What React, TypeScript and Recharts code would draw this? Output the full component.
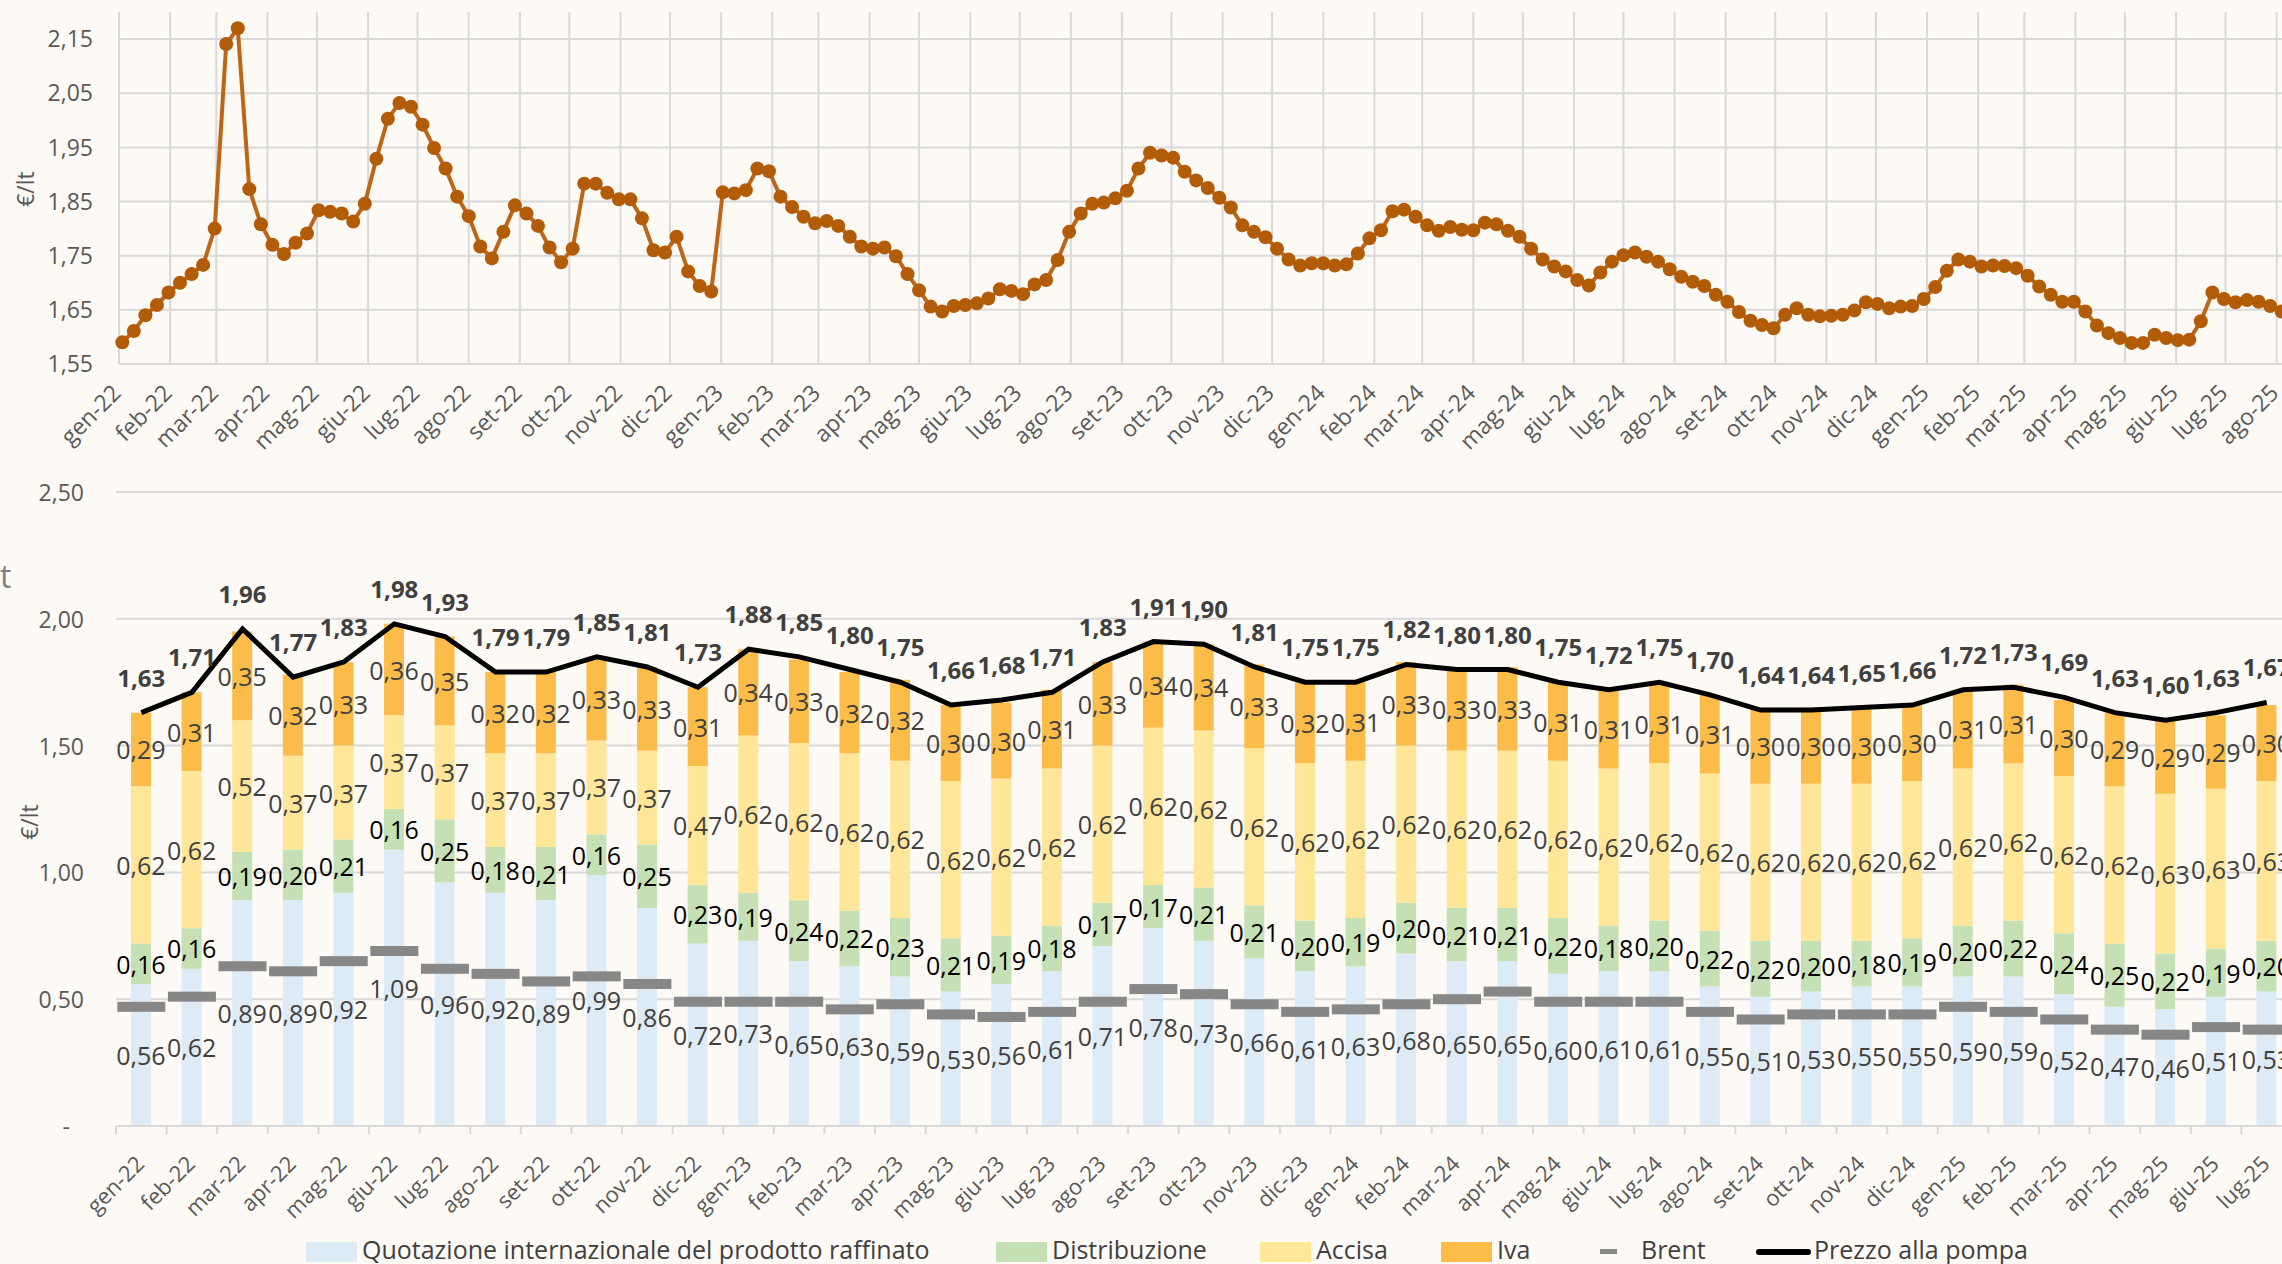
import React from 'react';
import { LineChart, Line, XAxis, YAxis, CartesianGrid, ComposedChart, Bar, LabelList } from 'recharts';

const FONT = "'Open Sans', 'Noto Sans', sans-serif";
const BG = '#FDF9F5';
const GRID = '#D9D9D9';
const TICK = '#595959';
const LABEL = '#404040';

const monthNames = ['gen', 'feb', 'mar', 'apr', 'mag', 'giu', 'lug', 'ago', 'set', 'ott', 'nov', 'dic'];

// prezzo settimanale (lunedì), primo dato 3 gennaio 2022
const weeklyStart = [2022, 0, 3];
const weeklyPrices = [
  1.590, 1.611, 1.640, 1.659, 1.682, 1.700, 1.716, 1.733, 1.800, 2.141,
  2.170, 1.873, 1.808, 1.770, 1.753, 1.774, 1.791, 1.834, 1.831, 1.828,
  1.813, 1.846, 1.929, 2.003, 2.032, 2.025, 1.992, 1.949, 1.911, 1.859,
  1.823, 1.767, 1.745, 1.794, 1.843, 1.828, 1.805, 1.765, 1.738, 1.763,
  1.883, 1.883, 1.866, 1.854, 1.854, 1.819, 1.760, 1.756, 1.785, 1.721,
  1.694, 1.684, 1.867, 1.865, 1.871, 1.911, 1.906, 1.859, 1.840, 1.822,
  1.810, 1.814, 1.805, 1.785, 1.767, 1.763, 1.765, 1.749, 1.716, 1.686,
  1.656, 1.647, 1.657, 1.659, 1.662, 1.671, 1.688, 1.685, 1.679, 1.697,
  1.705, 1.742, 1.794, 1.828, 1.846, 1.848, 1.856, 1.870, 1.911, 1.940,
  1.935, 1.931, 1.905, 1.889, 1.875, 1.857, 1.839, 1.806, 1.794, 1.784,
  1.763, 1.743, 1.732, 1.736, 1.736, 1.732, 1.734, 1.754, 1.782, 1.797,
  1.832, 1.835, 1.822, 1.806, 1.796, 1.803, 1.798, 1.797, 1.811, 1.808,
  1.796, 1.785, 1.763, 1.743, 1.730, 1.721, 1.705, 1.695, 1.719, 1.739,
  1.751, 1.756, 1.748, 1.739, 1.725, 1.711, 1.702, 1.694, 1.678, 1.665,
  1.646, 1.630, 1.622, 1.616, 1.641, 1.653, 1.641, 1.638, 1.639, 1.641,
  1.649, 1.664, 1.661, 1.653, 1.656, 1.657, 1.670, 1.692, 1.722, 1.743,
  1.739, 1.730, 1.732, 1.731, 1.727, 1.713, 1.693, 1.678, 1.665, 1.665,
  1.647, 1.621, 1.607, 1.598, 1.589, 1.589, 1.604, 1.598, 1.594, 1.595,
  1.629, 1.682, 1.670, 1.664, 1.668, 1.665, 1.657, 1.647,
];

const months = [
  'gen-22', 'feb-22', 'mar-22', 'apr-22', 'mag-22', 'giu-22', 'lug-22', 'ago-22', 'set-22', 'ott-22', 'nov-22', 'dic-22',
  'gen-23', 'feb-23', 'mar-23', 'apr-23', 'mag-23', 'giu-23', 'lug-23', 'ago-23', 'set-23', 'ott-23', 'nov-23', 'dic-23',
  'gen-24', 'feb-24', 'mar-24', 'apr-24', 'mag-24', 'giu-24', 'lug-24', 'ago-24', 'set-24', 'ott-24', 'nov-24', 'dic-24',
  'gen-25', 'feb-25', 'mar-25', 'apr-25', 'mag-25', 'giu-25', 'lug-25',
];
const quotazione = [
  0.56, 0.62, 0.89, 0.89, 0.92, 1.09, 0.96, 0.92, 0.89, 0.99, 0.86, 0.72,
  0.73, 0.65, 0.63, 0.59, 0.53, 0.56, 0.61, 0.71, 0.78, 0.73, 0.66, 0.61,
  0.63, 0.68, 0.65, 0.65, 0.60, 0.61, 0.61, 0.55, 0.51, 0.53, 0.55, 0.55,
  0.59, 0.59, 0.52, 0.47, 0.46, 0.51, 0.53,
];
const distribuzione = [
  0.16, 0.16, 0.19, 0.20, 0.21, 0.16, 0.25, 0.18, 0.21, 0.16, 0.25, 0.23,
  0.19, 0.24, 0.22, 0.23, 0.21, 0.19, 0.18, 0.17, 0.17, 0.21, 0.21, 0.20,
  0.19, 0.20, 0.21, 0.21, 0.22, 0.18, 0.20, 0.22, 0.22, 0.20, 0.18, 0.19,
  0.20, 0.22, 0.24, 0.25, 0.22, 0.19, 0.20,
];
const accisa = [
  0.62, 0.62, 0.52, 0.37, 0.37, 0.37, 0.37, 0.37, 0.37, 0.37, 0.37, 0.47,
  0.62, 0.62, 0.62, 0.62, 0.62, 0.62, 0.62, 0.62, 0.62, 0.62, 0.62, 0.62,
  0.62, 0.62, 0.62, 0.62, 0.62, 0.62, 0.62, 0.62, 0.62, 0.62, 0.62, 0.62,
  0.62, 0.62, 0.62, 0.62, 0.63, 0.63, 0.63,
];
const iva = [
  0.29, 0.31, 0.35, 0.32, 0.33, 0.36, 0.35, 0.32, 0.32, 0.33, 0.33, 0.31,
  0.34, 0.33, 0.32, 0.32, 0.30, 0.30, 0.31, 0.33, 0.34, 0.34, 0.33, 0.32,
  0.31, 0.33, 0.33, 0.33, 0.31, 0.31, 0.31, 0.31, 0.30, 0.30, 0.30, 0.30,
  0.31, 0.31, 0.30, 0.29, 0.29, 0.29, 0.30,
];
const brent = [
  0.47, 0.51, 0.63, 0.61, 0.65, 0.69, 0.62, 0.60, 0.57, 0.59, 0.56, 0.49,
  0.49, 0.49, 0.46, 0.48, 0.44, 0.43, 0.45, 0.49, 0.54, 0.52, 0.48, 0.45,
  0.46, 0.48, 0.50, 0.53, 0.49, 0.49, 0.49, 0.45, 0.42, 0.44, 0.44, 0.44,
  0.47, 0.45, 0.42, 0.38, 0.36, 0.39, 0.38,
];
const pompa = [
  1.63, 1.71, 1.96, 1.77, 1.83, 1.98, 1.93, 1.79, 1.79, 1.85, 1.81, 1.73,
  1.88, 1.85, 1.80, 1.75, 1.66, 1.68, 1.71, 1.83, 1.91, 1.90, 1.81, 1.75,
  1.75, 1.82, 1.80, 1.80, 1.75, 1.72, 1.75, 1.70, 1.64, 1.64, 1.65, 1.66,
  1.72, 1.73, 1.69, 1.63, 1.60, 1.63, 1.67,
];

const topYTicks = [1.55, 1.65, 1.75, 1.85, 1.95, 2.05, 2.15];
const TOP_Y_MIN = 1.55;
const TOP_Y_MAX = 2.2;
const bottomYTicks = [0, 0.5, 1, 1.5, 2, 2.5];

const DAY = 86400000;
const origin = Date.UTC(2022, 0, 1);
const dayOf = (y: number, m: number, d: number) => Math.round((Date.UTC(y, m, d) - origin) / DAY);
const startDay = dayOf(weeklyStart[0], weeklyStart[1], weeklyStart[2]);
const weeklyData = weeklyPrices.map((price, i) => ({ day: startDay + 7 * i, price }));

const TOP_MAX_DAY = 1370;
const LAST_LABEL_DAY = dayOf(2025, 7, 1); // ago-25
const monthTicks: number[] = [];
for (let y = 2022; y <= 2025; y++) {
  for (let m = 0; m < 12; m++) {
    const d = dayOf(y, m, 1);
    if (d <= LAST_LABEL_DAY) monthTicks.push(d);
  }
}
const monthLabel = (day: number) => {
  const dt = new Date(origin + day * DAY);
  return `${monthNames[dt.getUTCMonth()]}-${String(dt.getUTCFullYear()).slice(2)}`;
};

const barData = months.map((mese, i) => ({
  mese,
  quotazione: quotazione[i],
  distribuzione: distribuzione[i],
  accisa: accisa[i],
  iva: iva[i],
  brent: brent[i],
  pompa: pompa[i],
}));

const fmt = (v: number) => v.toFixed(2).replace('.', ',');

// gridlines only at the tick values (no extra line at the top edge)
const topHorizontalLines = ({ offset }: any) =>
  topYTicks.map((v) => offset.top + ((TOP_Y_MAX - v) / (TOP_Y_MAX - TOP_Y_MIN)) * offset.height);
const topVerticalLines = ({ offset }: any) =>
  monthTicks.map((d) => offset.left + (d / TOP_MAX_DAY) * offset.width);

const TopXTick = (p: any) => (
  <text
    transform={`translate(${p.x - 3},${p.y + 24}) rotate(-45)`}
    textAnchor='end'
    dominantBaseline='central'
    fill={TICK}
    fontSize={23}
    fontFamily={FONT}
  >
    {monthLabel(p.payload.value)}
  </text>
);

const BAND = 2176 / 43;

const BottomXTick = (p: any) => (
  <g>
    <line x1={p.x - BAND / 2} x2={p.x - BAND / 2} y1={p.y} y2={p.y + 8} stroke={GRID} strokeWidth={2} />
    <text
      transform={`translate(${p.x - 2},${p.y + 33}) rotate(-45)`}
      textAnchor='end'
      dominantBaseline='central'
      fill={TICK}
      fontSize={22}
      fontFamily={FONT}
    >
      {p.payload.value}
    </text>
  </g>
);

const BottomYTick = (p: any) => {
  const v = p.payload.value;
  return (
    <text x={v === 0 ? p.x - 14 : p.x} y={p.y} textAnchor='end' dominantBaseline='central' fill={TICK} fontSize={23} fontFamily={FONT}>
      {v === 0 ? '-' : fmt(v)}
    </text>
  );
};

const barLabel = (color: string) => (p: any) => {
  const { x, y, width, height, value } = p;
  if (value == null) return null;
  return (
    <text
      x={Number(x) + Number(width) / 2}
      y={Number(y) + Number(height) / 2}
      textAnchor='middle'
      dominantBaseline='central'
      fill={color}
      fontSize={25}
      fontFamily={FONT}
    >
      {fmt(value)}
    </text>
  );
};

const pumpLabel = (p: any) => (
  <text x={p.x} y={p.y - 26} textAnchor='middle' fill={LABEL} fontSize={24} fontWeight={700} fontFamily={FONT}>
    {fmt(p.value)}
  </text>
);

const brentDot = (p: any) => (
  <rect key={`b-${p.index}`} x={p.cx - 24} y={p.cy - 5} width={48} height={10} fill='#878787' />
);

const legendItems = [
  { name: 'Quotazione internazionale del prodotto raffinato', kind: 'box', color: '#DDEBF7', left: 306 },
  { name: 'Distribuzione', kind: 'box', color: '#C5E0B4', left: 996 },
  { name: 'Accisa', kind: 'box', color: '#FFE699', left: 1260 },
  { name: 'Iva', kind: 'box', color: '#FBBC4A', left: 1441 },
  { name: 'Brent', kind: 'dash', color: '#878787', left: 1600 },
  { name: 'Prezzo alla pompa', kind: 'line', color: '#000000', left: 1756 },
];

const App = () => {
  return (
    <div
      style={{
        position: 'absolute',
        left: 0,
        top: 0,
        width: 2282,
        height: 1264,
        overflow: 'hidden',
        background: BG,
        fontFamily: FONT,
      }}
    >
      <div style={{ position: 'absolute', left: 0, top: 0 }}>
        <LineChart width={2400} height={480} data={weeklyData} margin={{ top: 12, right: 21, left: 19, bottom: 40 }}>
          <CartesianGrid
            stroke={GRID}
            strokeWidth={2}
            horizontalCoordinatesGenerator={topHorizontalLines}
            verticalCoordinatesGenerator={topVerticalLines}
          />
          <XAxis
            dataKey='day'
            type='number'
            domain={[0, TOP_MAX_DAY]}
            ticks={monthTicks}
            interval={0}
            height={76}
            axisLine={false}
            tickLine={false}
            tickSize={0}
            tickMargin={0}
            tick={<TopXTick />}
          />
          <YAxis
            domain={[TOP_Y_MIN, TOP_Y_MAX]}
            ticks={topYTicks}
            interval={0}
            width={100}
            axisLine={false}
            tickLine={false}
            tickSize={0}
            tickMargin={26}
            tickFormatter={fmt}
            tick={{ fill: TICK, fontSize: 23, fontFamily: FONT }}
            label={{
              content: () => (
                <text transform='translate(25,189) rotate(-90)' textAnchor='middle' dominantBaseline='central' fill={TICK} fontSize={23} fontFamily={FONT}>
                  €/lt
                </text>
              ),
            }}
          />
          <Line
            dataKey='price'
            stroke='#BC661A'
            strokeWidth={4}
            dot={{ r: 7, fill: '#B25C08', stroke: 'none' }}
            activeDot={false}
            isAnimationActive={false}
          />
        </LineChart>
      </div>

      <div style={{ position: 'absolute', left: 0, top: 560, fontSize: 32, color: '#7F7F7F', lineHeight: '32px' }}>t</div>

      <div style={{ position: 'absolute', left: 0, top: 400 }}>
        <ComposedChart width={2400} height={864} data={barData} margin={{ top: 92, right: 108, left: 16, bottom: 0 }}>
          <CartesianGrid stroke={GRID} strokeWidth={2} vertical={false} horizontalValues={bottomYTicks} syncWithTicks />
          <XAxis
            dataKey='mese'
            interval={0}
            height={138}
            axisLine={{ stroke: GRID, strokeWidth: 2 }}
            tickLine={false}
            tickSize={0}
            tickMargin={0}
            tick={<BottomXTick />}
          />
          <YAxis
            domain={[0, 2.5]}
            ticks={bottomYTicks}
            interval={0}
            width={100}
            axisLine={false}
            tickLine={false}
            tickSize={0}
            tickMargin={32}
            tick={<BottomYTick />}
            label={{
              content: () => (
                <text transform='translate(29,422) rotate(-90)' textAnchor='middle' dominantBaseline='central' fill={TICK} fontSize={23} fontFamily={FONT}>
                  €/lt
                </text>
              ),
            }}
          />
          <Bar dataKey='quotazione' stackId='a' fill='#DDEBF7' barSize={20} isAnimationActive={false}>
            <LabelList dataKey='quotazione' content={barLabel(LABEL)} />
          </Bar>
          <Bar dataKey='distribuzione' stackId='a' fill='#C5E0B4' barSize={20} isAnimationActive={false}>
            <LabelList dataKey='distribuzione' content={barLabel('#000000')} />
          </Bar>
          <Bar dataKey='accisa' stackId='a' fill='#FFE699' barSize={20} isAnimationActive={false}>
            <LabelList dataKey='accisa' content={barLabel(LABEL)} />
          </Bar>
          <Bar dataKey='iva' stackId='a' fill='#FBBC4A' barSize={20} isAnimationActive={false}>
            <LabelList dataKey='iva' content={barLabel(LABEL)} />
          </Bar>
          <Line dataKey='brent' stroke='none' dot={brentDot} activeDot={false} isAnimationActive={false} />
          <Line dataKey='pompa' stroke='#000000' strokeWidth={5} dot={false} activeDot={false} isAnimationActive={false}>
            <LabelList dataKey='pompa' content={pumpLabel} />
          </Line>
        </ComposedChart>
      </div>

      {legendItems.map((item) => (
        <div
          key={item.name}
          style={{ position: 'absolute', left: item.left, top: 1232, height: 34, display: 'flex', alignItems: 'flex-start', whiteSpace: 'nowrap' }}
        >
          {item.kind === 'box' && <div style={{ width: 51, height: 20, marginTop: 10, marginRight: 5, background: item.color }} />}
          {item.kind === 'dash' && <div style={{ width: 17, height: 5, marginTop: 17, marginRight: 24, background: item.color }} />}
          {item.kind === 'line' && <div style={{ width: 55, height: 6, marginTop: 17, marginRight: 3, background: item.color, borderRadius: 3 }} />}
          <span style={{ fontSize: 25, lineHeight: '34px', color: LABEL }}>{item.name}</span>
        </div>
      ))}
    </div>
  );
};

export default App;
